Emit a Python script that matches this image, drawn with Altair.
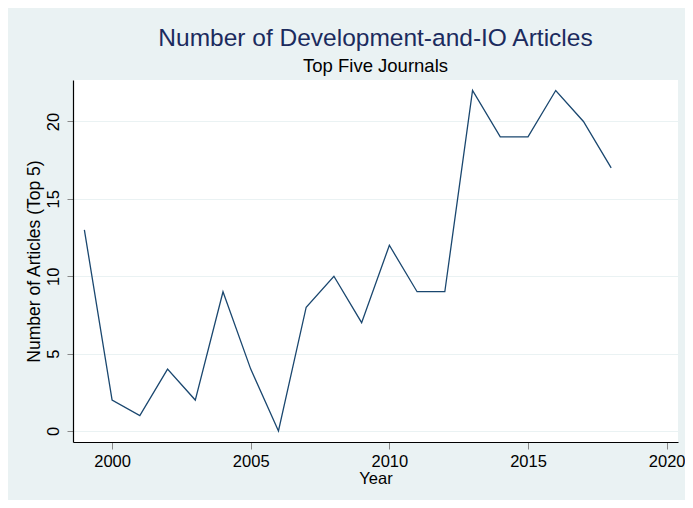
import altair as alt
import pandas as pd

years = [1999, 2000, 2001, 2002, 2003, 2004, 2005, 2006, 2007, 2008,
         2009, 2010, 2011, 2012, 2013, 2014, 2015, 2016, 2017, 2018]
articles = [13, 2, 1, 4, 2, 9, 4, 0, 8, 10,
            7, 12, 9, 9, 22, 19, 19, 22, 20, 17]
x_ticks = [2000, 2005, 2010, 2015, 2020]
y_ticks = [0, 5, 10, 15, 20]

df = pd.DataFrame({"Year": years, "Articles": articles})

FONT = "Liberation Sans"
BG = "#EAF2F3"

chart = alt.Chart(df).mark_line(color="#1a476f", strokeWidth=1.3).encode(
    x=alt.X("Year:Q",
            scale=alt.Scale(domain=[1998.59, 2020.41], nice=False, zero=False),
            axis=alt.Axis(values=x_ticks, format="d", title="Year",
                          grid=False, tickSize=7, tickColor="#888888",
                          domainColor="#000000", domainWidth=1.2,
                          labelFontSize=16.5, labelPadding=4, labelColor="#000000",
                          titleFontSize=16.5, titleFontWeight="normal",
                          titleColor="#000000", titlePadding=1)),
    y=alt.Y("Articles:Q",
            scale=alt.Scale(domain=[-0.71, 22.68], nice=False, zero=False),
            axis=alt.Axis(values=y_ticks, title="Number of Articles (Top 5)",
                          grid=True, gridColor=BG, gridWidth=1.2,
                          tickSize=6, tickColor="#888888",
                          domainColor="#000000", domainWidth=1.2,
                          labelAngle=-90, labelAlign="center", labelBaseline="bottom",
                          labelFontSize=16.5, labelPadding=6, labelColor="#000000",
                          titleFontSize=17.5, titleFontWeight="normal",
                          titleColor="#000000", titlePadding=2)),
).properties(
    width=605,
    height=362,
    background=BG,
    autosize=alt.AutoSizeParams(type="none"),
    padding={"left": 65, "top": 72, "right": 7, "bottom": 58},
    title=alt.TitleParams(
        text="Number of Development-and-IO Articles",
        subtitle="Top Five Journals",
        anchor="middle",
        frame="group",
        font=FONT,
        fontSize=24.5,
        fontWeight="normal",
        color="#1b2b5e",
        subtitleFont=FONT,
        subtitleFontSize=18.5,
        subtitleColor="#000000",
        subtitlePadding=5,
        offset=4,
    ),
).configure(font=FONT).configure_view(
    fill="white", stroke=None
)

chart.save("out.html", embed_options={"renderer": "svg", "actions": False})
